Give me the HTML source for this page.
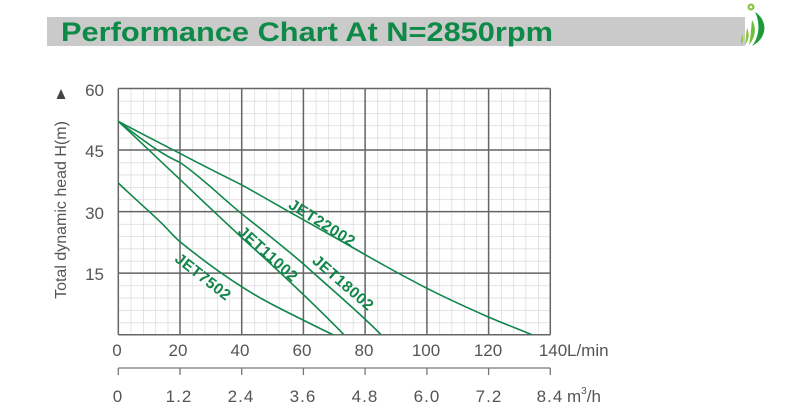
<!DOCTYPE html>
<html><head><meta charset="utf-8"><style>
html,body{margin:0;padding:0;background:#fff;}
svg{display:block;}
text{font-family:"Liberation Sans",sans-serif;}
</style></head><body>
<svg width="804" height="408" viewBox="0 0 804 408" xmlns="http://www.w3.org/2000/svg">
<defs>
<pattern id="mg" patternUnits="userSpaceOnUse" x="118.3" y="88.5" width="12.343" height="12.31">
<path d="M0 0 V12.31 M0 0 H12.343" stroke="#d2d2d2" stroke-width="1.2" fill="none"/>
</pattern>
</defs>
<rect x="47" y="17" width="698" height="29" fill="#c9cac9"/>
<text x="61" y="41" font-size="27" font-weight="bold" fill="#0d8a47" textLength="492" lengthAdjust="spacingAndGlyphs">Performance Chart At N=2850rpm</text>
<circle cx="751" cy="7" r="3.5" fill="#8cc63f"/><circle cx="751" cy="7" r="1.3" fill="#fff"/>
<path d="M755 12 C768 20 768 38 752 46 C760 36 760 22 755 12Z" fill="#1f9a3a"/>
<path d="M752 20 C757 28 755 38 749 45 C751 36 751 28 752 20Z" fill="#6cbf3a"/>
<path d="M747 28 C750 34 749 40 745 45 C746 38 746 33 747 28Z" fill="#8cc63f"/>
<path d="M742 35 C744 38 743 42 741 45 C741 41 741 38 742 35Z" fill="#8cc63f"/>
<rect x="118.3" y="88.5" width="432" height="246.2" fill="url(#mg)"/>
<g stroke="#666" stroke-width="1.5">
<line x1="118.3" y1="88.5" x2="118.3" y2="334.7"/><line x1="180" y1="88.5" x2="180" y2="334.7"/><line x1="241.7" y1="88.5" x2="241.7" y2="334.7"/><line x1="303.4" y1="88.5" x2="303.4" y2="334.7"/><line x1="365.1" y1="88.5" x2="365.1" y2="334.7"/><line x1="426.9" y1="88.5" x2="426.9" y2="334.7"/><line x1="488.6" y1="88.5" x2="488.6" y2="334.7"/><line x1="550.3" y1="88.5" x2="550.3" y2="334.7"/>
<line x1="118.3" y1="88.5" x2="550.3" y2="88.5"/><line x1="118.3" y1="150" x2="550.3" y2="150"/><line x1="118.3" y1="211.6" x2="550.3" y2="211.6"/><line x1="118.3" y1="273.1" x2="550.3" y2="273.1"/><line x1="118.3" y1="334.7" x2="550.3" y2="334.7"/>
</g>
<g fill="none" stroke="#11864a" stroke-width="1.6" stroke-linejoin="round">
<path d="M118.3,183 C135,199 150,212 160,221.7 C168,229 172,235 180,241.7 C200,258 220,273 241.7,286.7 C262,300 285,311 303,320 C315,326 325,331 333,334.7"/>
<path d="M118.3,121.3 C160,160 200,199 241.7,237.5 C280,272 315,305 344,334.7"/>
<path d="M118.3,121.3 C150,146 165,156 180,162.4 C205,180 222,198 241.7,213.7 C262,230 285,248 303.5,264 C330,288 360,313 381,334.7"/>
<path d="M118.3,121.3 C140,133 160,143 180,153.4 C200,164 220,174 241.7,184.9 C262,196 282,208 303.5,219.8 C325,232 345,243 365.2,254.7 C385,266 405,277 426.9,288.3 C448,299 468,308 488.6,317.1 C505,324 518,329 531.8,334.7"/>
</g>
<g font-size="15.5" font-weight="bold" fill="#11864a" text-anchor="middle" letter-spacing="0.5">
<text transform="translate(322,223) rotate(32)" y="5">JET22002</text>
<text transform="translate(268,254) rotate(42)" y="5">JET11002</text>
<text transform="translate(343,283) rotate(41)" y="5">JET18002</text>
<text transform="translate(203,277) rotate(38)" y="5">JET7502</text>
</g>
<g font-size="17" fill="#555" text-anchor="end">
<text x="104" y="96">60</text><text x="104" y="157">45</text><text x="104" y="219">30</text><text x="104" y="280">15</text>
</g>
<path d="M56.5 99 L61 89 L65.5 99Z" fill="#444"/>
<text transform="translate(66,210) rotate(-90)" font-size="16" fill="#555" text-anchor="middle">Total dynamic head H(m)</text>
<g font-size="17" fill="#555" text-anchor="middle">
<text x="117" y="356">0</text><text x="178" y="356">20</text><text x="240" y="356">40</text><text x="302" y="356">60</text><text x="364" y="356">80</text><text x="426" y="356">100</text><text x="488" y="356">120</text><text x="553" y="356">140</text>
</g>
<text x="567" y="356" font-size="17" fill="#555">L/min</text>
<g stroke="#777" stroke-width="1.3" fill="none">
<line x1="118.3" y1="368" x2="550.3" y2="368"/>
<line x1="118.3" y1="368" x2="118.3" y2="375"/><line x1="180" y1="368" x2="180" y2="375"/><line x1="241.7" y1="368" x2="241.7" y2="375"/><line x1="303.4" y1="368" x2="303.4" y2="375"/><line x1="365.1" y1="368" x2="365.1" y2="375"/><line x1="426.9" y1="368" x2="426.9" y2="375"/><line x1="488.6" y1="368" x2="488.6" y2="375"/><line x1="550.3" y1="368" x2="550.3" y2="375"/>
</g>
<g font-size="17" fill="#555" text-anchor="middle" letter-spacing="1">
<text x="118" y="402">0</text><text x="179" y="402">1.2</text><text x="241" y="402">2.4</text><text x="303" y="402">3.6</text><text x="365" y="402">4.8</text><text x="427" y="402">6.0</text><text x="489" y="402">7.2</text><text x="550" y="402">8.4</text>
</g>
<text x="567" y="402" font-size="17" fill="#555">m<tspan font-size="10" dy="-8">3</tspan><tspan dy="8">/h</tspan></text>
</svg>
</body></html>
